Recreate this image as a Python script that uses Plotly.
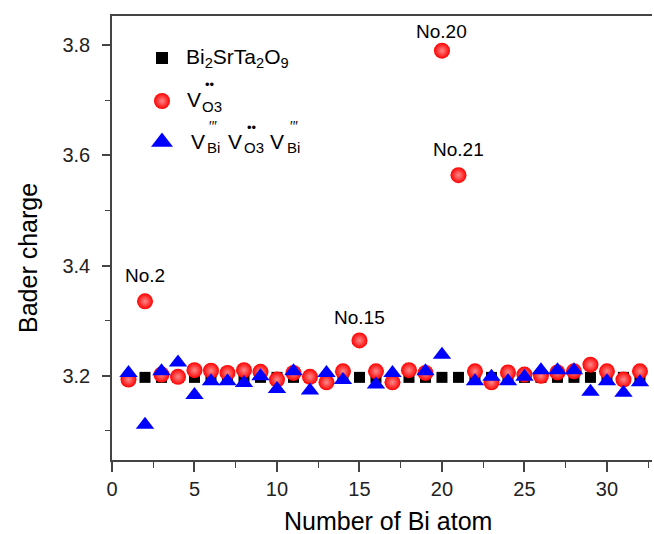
import plotly.graph_objects as go

# ---------------- data ----------------
bi_index = list(range(1, 33))
pristine = [3.197] * 32
vo3 = [3.193, 3.335, 3.202, 3.198, 3.210, 3.209, 3.205, 3.210, 3.207, 3.193,
       3.205, 3.198, 3.188, 3.208, 3.264, 3.208, 3.188, 3.210, 3.205, 3.790,
       3.564, 3.208, 3.188, 3.206, 3.202, 3.200, 3.206, 3.208, 3.220, 3.208,
       3.193, 3.208]
tri_index = [1, 2, 3, 4, 5, 6, 7, 8, 9, 10, 11, 12, 13, 14, 16, 17, 19, 20,
             22, 23, 24, 25, 26, 27, 28, 29, 30, 31, 32]
vbi_vo3_vbi = [3.205, 3.111, 3.208, 3.224, 3.165, 3.190, 3.190, 3.187, 3.199,
               3.176, 3.208, 3.173, 3.205, 3.192, 3.184, 3.205, 3.208, 3.238,
               3.190, 3.198, 3.190, 3.198, 3.210, 3.210, 3.210, 3.171, 3.190,
               3.169, 3.188]
labelled = [2, 15, 20, 21]
x_ticks = [0, 5, 10, 15, 20, 25, 30]
y_ticks = [3.2, 3.4, 3.6, 3.8]

# ---------------- layout helpers ----------------
W, H = 654, 534
L, R, T, B = 112, 652, 16, 460
FONT = "Liberation Sans, Arial, sans-serif"


def px(x):
    return (x - L) / (R - L)


def py(y):
    return (B - y) / (B - T)


sphere = dict(symbol="circle", size=16, color="#ff0000",
              gradient=dict(type="radial", color="#ff8a8a"),
              line=dict(width=0))

fig = go.Figure()

fig.add_trace(go.Scatter(
    x=bi_index, y=pristine, mode="markers", showlegend=False,
    marker=dict(symbol="square", size=11, color="black")))

fig.add_trace(go.Scatter(
    x=bi_index, y=vo3, mode="markers", showlegend=False, marker=sphere))

fig.add_trace(go.Scatter(
    x=tri_index, y=vbi_vo3_vbi, mode="markers", showlegend=False,
    marker=dict(symbol="triangle-up", size=16, color="#0000ff",
                line=dict(width=0))))

# legend markers on a hidden paper-like axis
fig.add_trace(go.Scatter(
    x=[px(162)], y=[py(58)], xaxis="x2", yaxis="y2", mode="markers",
    showlegend=False, marker=dict(symbol="square", size=12, color="black")))
fig.add_trace(go.Scatter(
    x=[px(162)], y=[py(101)], xaxis="x2", yaxis="y2", mode="markers",
    showlegend=False, marker=sphere))
fig.add_trace(go.Scatter(
    x=[px(162)], y=[py(142)], xaxis="x2", yaxis="y2", mode="markers",
    showlegend=False,
    marker=dict(symbol="triangle-up", size=19, color="#0000ff")))

annotations = []


def ann(text, x, y, size, xanchor="left", yanchor="middle", **kw):
    annotations.append(dict(
        text=text, x=px(x), y=py(y), xref="paper", yref="paper",
        xanchor=xanchor, yanchor=yanchor, showarrow=False,
        font=dict(family=FONT, size=size, color="black"), **kw))


# legend texts
ann("Bi<sub>2</sub>SrTa<sub>2</sub>O<sub>9</sub>", 184, 58, 21)
ann("V", 185, 100, 21)
ann("O3", 200, 106, 15)
ann("••", 203, 85, 13)
ann("V", 189, 141, 21)
ann("Bi", 205, 147, 15)
ann("′′′", 207, 126, 14)
ann("V", 226, 141, 21)
ann("O3", 242, 147, 15)
ann("••", 245, 127, 13)
ann("V", 268, 141, 21)
ann("Bi", 285, 147, 15)
ann("′′′", 288, 126, 14)

# axis titles
ann("Bader charge", 28, 258, 25, xanchor="center", textangle=-90)
ann("Number of Bi atom", 388, 521, 25, xanchor="center")

# labels above notable points
shifts = {2: 26, 15: 23, 20: 19, 21: 26}
for n in labelled:
    annotations.append(dict(
        text=f"No.{n}", x=n, y=vo3[n - 1], xref="x", yref="y",
        showarrow=False, yshift=shifts[n], xanchor="center",
        yanchor="middle", font=dict(family=FONT, size=19, color="black")))

axis_color = "#444444"
fig.update_layout(
    width=W, height=H, margin=dict(l=L, r=W - R, t=T, b=H - B),
    paper_bgcolor="white", plot_bgcolor="white",
    font=dict(family=FONT, size=20, color="#222222"),
    annotations=annotations,
    xaxis=dict(range=[0, 32.73], tickvals=x_ticks, ticks="outside",
               ticklen=10, tickwidth=1.5, tickcolor=axis_color,
               showline=True, linecolor=axis_color, linewidth=1.5,
               mirror=True, showgrid=False, zeroline=False,
               tickfont=dict(size=20, family=FONT, color="#222222"),
               minor=dict(ticks="outside", ticklen=6, tickwidth=1.2,
                          tickcolor=axis_color, dtick=2.5, tick0=0,
                          showgrid=False)),
    yaxis=dict(range=[3.047, 3.853], tickvals=y_ticks,
               ticktext=[f"{v:.1f}" for v in y_ticks], ticks="outside",
               ticklen=8, tickwidth=1.5, tickcolor=axis_color,
               ticklabelstandoff=8,
               showline=True, linecolor=axis_color, linewidth=1.5,
               showgrid=False, zeroline=False,
               tickfont=dict(size=20, family=FONT, color="#222222"),
               minor=dict(ticks="outside", ticklen=5, tickwidth=1.2,
                          tickcolor=axis_color, dtick=0.1, tick0=3.1,
                          showgrid=False)),
    xaxis2=dict(range=[0, 1], overlaying="x", visible=False,
                domain=[0, 1]),
    yaxis2=dict(range=[0, 1], overlaying="y", visible=False),
)

fig.write_html("out.html")
